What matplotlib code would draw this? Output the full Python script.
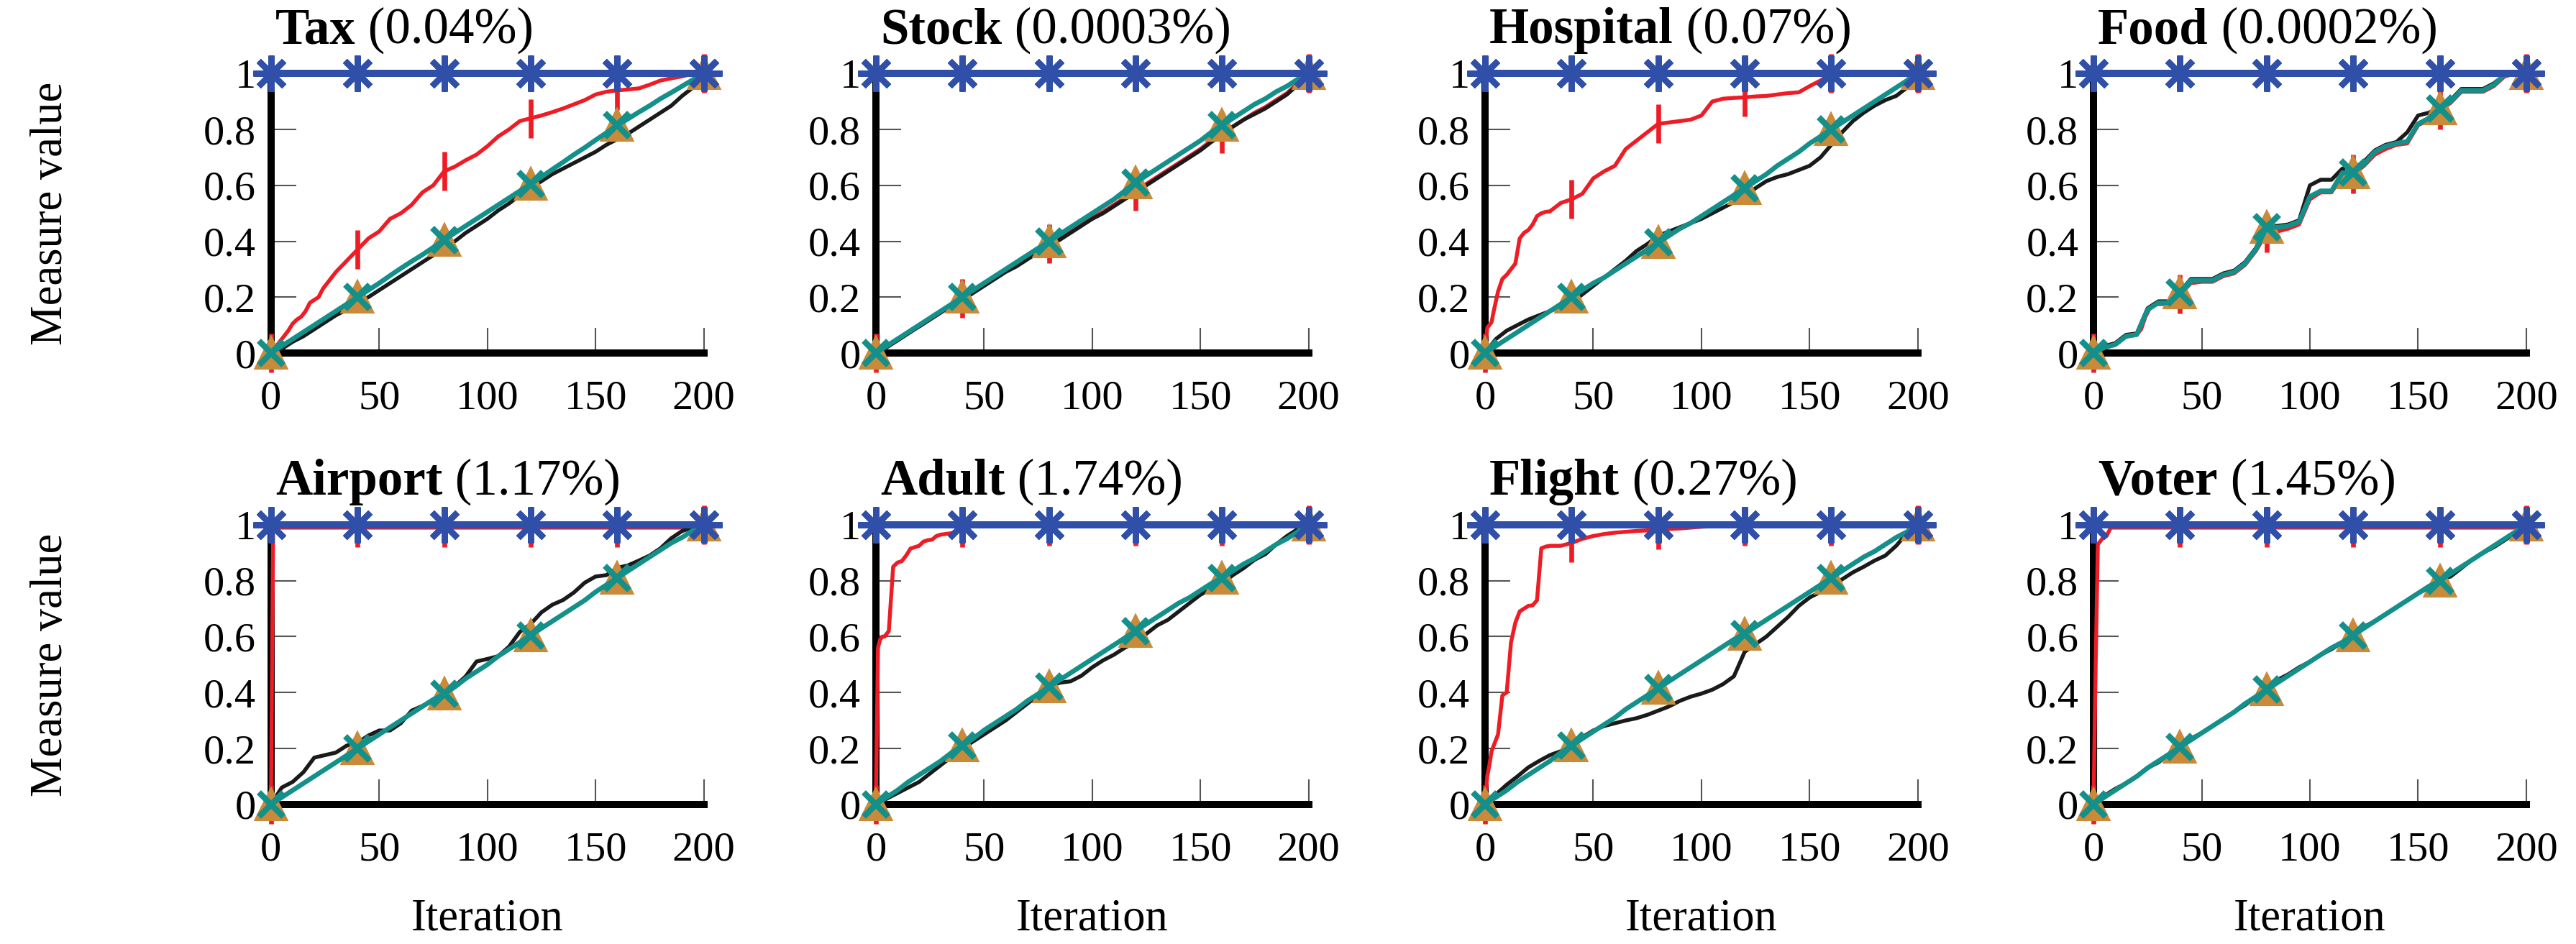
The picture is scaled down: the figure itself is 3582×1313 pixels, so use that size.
import matplotlib
matplotlib.use("Agg")
import matplotlib.pyplot as plt

plt.rcParams["font.family"] = ["Liberation Serif", "DejaVu Serif"]

# datasets and their error rate shown in the title
names = ["Tax", "Stock", "Hospital", "Food", "Airport", "Adult", "Flight", "Voter"]
rates = ["0.04%", "0.0003%", "0.07%", "0.0002%", "1.17%", "1.74%", "0.27%", "1.45%"]

# iteration grids
iter_fine = [0, 1, 2, 3, 4, 6, 8, 10, 12, 14, 16, 18, 20, 22, 24, 26, 28, 30,
             35, 40, 45, 50, 55, 60, 65, 70, 75, 80, 85, 90, 95, 100, 105, 110,
             115, 120, 125, 130, 135, 140, 145, 150, 155, 160, 165, 170, 175,
             180, 185, 190, 195, 200]
iter_5 = list(range(0, 201, 5))
iter_mark = [0, 40, 80, 120, 160, 200]

# blue series (always 1)
blue_y = [1, 1, 1, 1, 1, 1]

# red series on iter_fine
red_tax = [0, .01, .02, .03, .04, .06, .08, .105, .12, .13, .15, .18, .19, .2, .23, .25, .27, .29,
           .33, .37, .41, .435, .48, .50, .53, .575, .60, .65, .667, .69, .71, .74, .775, .80,
           .83, .84, .85, .862, .875, .89, .905, .925, .935, .94, .943, .947, .96,
           .975, .983, .99, 1.0, 1.0]
red_stock = [0, .005, .01, .015, .02, .03, .04, .045, .06, .07, .08, .09, .095, .105, .115, .125, .135, .145,
             .17, .195, .22, .245, .27, .295, .315, .34, .365, .39, .41, .435, .46, .485, .505, .53,
             .555, .58, .605, .63, .655, .68, .705, .73, .76, .785, .81, .835, .86,
             .88, .905, .93, .965, 1.0]
red_hospital = [0, .09, .10, .11, .15, .22, .265, .28, .30, .32, .41, .43, .44, .46, .49, .50, .505, .507,
                .537, .55, .57, .625, .65, .67, .73, .76, .79, .82, .825, .83, .835, .85, .90, .91,
                .913, .915, .918, .92, .925, .93, .933, .955, .975, 1.0, 1.0, 1.0, 1.0,
                1.0, 1.0, 1.0, 1.0, 1.0]
red_food = [0, .005, .008, .01, .015, .02, .025, .03, .04, .055, .06, .063, .066, .085, .13, .16, .175, .175,
            .175, .21, .25, .255, .255, .275, .285, .315, .365, .43, .435, .445, .46, .55, .575, .575,
            .635, .64, .67, .71, .73, .745, .75, .815, .835, .87, .895, .935, .935,
            .935, .955, .99, 1.0, 1.0]
red_airport = [0, .985, .99, .99, .99, .99, .99, .99, .99, .99, .99, .99, .99, .99, .99, .99, .99, .99,
               .99, .99, .99, .99, .99, .99, .99, .99, .99, .99, .99, .99, .99, .99, .99, .99,
               .99, .99, .99, .99, .99, .99, .99, .99, .99, .99, .99, .99, .99,
               .99, .99, .99, .995, 1.0]
red_adult = [0, .56, .59, .6, .6, .62, .85, .865, .87, .89, .915, .92, .925, .94, .945, .947, .96, .965,
             .97, .99, .995, .995, .995, .995, .995, .995, .995, .995, .995, .995, .995, .995, .995, .995,
             .995, .995, .995, .995, .995, .995, .995, .995, .995, .995, .995, .995, .995,
             .995, .995, .995, .995, 1.0]
red_flight = [0, .1, .14, .19, .21, .25, .39, .40, .58, .65, .69, .70, .71, .712, .73, .916, .922, .925,
              .925, .935, .95, .96, .967, .972, .975, .978, .98, .983, .985, .987, .99, .993, .995, .995,
              .995, .995, .995, .995, .995, .995, .995, .995, .995, .995, .995, .995, .995,
              .995, .995, .995, .995, 1.0]
red_voter = [0, .5, .93, .94, .95, .96, .99, .99, .99, .99, .99, .99, .99, .99, .99, .99, .99, .99,
             .99, .99, .99, .99, .99, .99, .99, .99, .99, .99, .99, .99, .99, .99, .99, .99,
             .99, .99, .99, .99, .99, .99, .99, .99, .99, .99, .99, .99, .99,
             .99, .99, .99, .99, 1.0]

# black series on iter_5
black_tax = [0, .015, .04, .06, .085, .11, .135, .155, .18, .2, .225, .25, .275, .3, .325, .35, .375, .4,
             .43, .455, .48, .51, .535, .565, .59, .615, .64, .66, .68, .70, .72, .745, .765, .785,
             .81, .835, .86, .885, .92, .95, 1.0]
black_stock = [0, .02, .045, .07, .095, .12, .145, .17, .19, .215, .24, .265, .29, .31, .335, .36, .385, .405,
               .43, .455, .48, .5, .525, .55, .575, .6, .625, .65, .675, .7, .725, .755, .78, .81,
               .835, .855, .875, .9, .925, .96, 1.0]
black_hospital = [0, .05, .08, .10, .12, .135, .15, .165, .18, .21, .24, .27, .30, .33, .365, .39, .42, .435,
                  .45, .465, .48, .50, .52, .54, .56, .59, .615, .63, .64, .655, .67, .70, .745, .79,
                  .83, .86, .885, .905, .92, .95, 1.0]
black_food = [0, .025, .035, .065, .07, .16, .185, .185, .22, .265, .265, .265, .285, .295, .325, .375, .455, .455,
              .46, .475, .60, .62, .62, .66, .66, .685, .725, .745, .755, .79, .85, .86, .88, .905,
              .945, .945, .945, .965, .995, 1.0, 1.0]
black_airport = [0, .06, .08, .115, .167, .176, .185, .21, .22, .246, .264, .264, .29, .335, .352, .37, .387, .423,
                 .458, .511, .52, .53, .564, .617, .645, .687, .714, .731, .758, .793, .815, .82, .846, .855,
                 .872, .89, .916, .952, .978, .99, 1.0]
black_adult = [0, .02, .04, .06, .08, .11, .14, .17, .2, .225, .25, .275, .3, .33, .36, .39, .42, .435,
               .44, .46, .49, .515, .535, .56, .58, .61, .64, .66, .69, .72, .75, .77, .79, .82,
               .845, .875, .895, .93, .96, .985, 1.0]
black_flight = [0, .035, .07, .1, .132, .155, .176, .19, .21, .24, .264, .28, .29, .3, .308, .32, .335, .35,
                .37, .385, .396, .41, .43, .458, .546, .573, .6, .635, .67, .71, .74, .76, .78, .805,
                .83, .85, .872, .89, .925, .97, 1.0]
black_voter = [0, .03, .055, .075, .1, .13, .15, .18, .205, .235, .255, .28, .305, .33, .355, .385, .415, .445,
               .465, .49, .51, .535, .555, .58, .605, .635, .655, .68, .705, .73, .755, .775, .805, .815,
               .845, .875, .9, .92, .945, .97, 1.0]

# teal series on iter_5 (the orange series lies right under it)
teal_tax = [0, .025, .05, .075, .10, .125, .15, .175, .20, .225, .25, .277, .303, .328, .352, .378, .405, .43,
            .455, .48, .505, .53, .555, .58, .605, .63, .657, .683, .71, .735, .762, .788, .815, .838,
            .862, .885, .91, .932, .955, .978, 1.0]
teal_stock = [0, .025, .05, .075, .10, .125, .15, .175, .20, .225, .25, .275, .30, .325, .35, .375, .40, .425,
              .45, .475, .50, .525, .55, .58, .61, .635, .66, .685, .71, .735, .76, .79, .815, .84,
              .865, .89, .91, .935, .955, .98, 1.0]
teal_hospital = [0, .025, .05, .075, .10, .125, .15, .175, .20, .225, .25, .27, .295, .32, .345, .37, .395, .42,
                 .445, .465, .49, .515, .54, .565, .59, .615, .64, .67, .695, .72, .75, .775, .80, .825,
                 .85, .875, .90, .925, .95, .975, 1.0]
teal_food = [0, .02, .03, .06, .066, .155, .18, .18, .215, .26, .26, .26, .28, .29, .32, .37, .45, .45,
             .455, .47, .56, .58, .58, .645, .645, .676, .72, .74, .75, .757, .82, .84, .875, .90,
             .94, .94, .94, .96, .995, 1.0, 1.0]
teal_airport = [0, .025, .05, .075, .10, .125, .15, .175, .20, .225, .25, .275, .30, .325, .35, .375, .395, .42,
                .45, .475, .50, .53, .555, .58, .605, .63, .655, .68, .705, .73, .76, .785, .81, .835,
                .86, .885, .91, .935, .955, .98, 1.0]
teal_adult = [0, .025, .05, .08, .105, .13, .155, .185, .21, .235, .265, .29, .315, .34, .37, .395, .42, .445,
              .47, .495, .52, .545, .57, .595, .62, .645, .67, .695, .72, .74, .765, .79, .81, .835,
              .86, .88, .905, .93, .95, .975, 1.0]
teal_flight = [0, .025, .05, .08, .105, .13, .155, .185, .21, .235, .26, .285, .31, .34, .365, .39, .415, .44,
               .465, .49, .515, .54, .565, .59, .61, .635, .66, .685, .71, .735, .76, .785, .81, .835,
               .86, .885, .905, .93, .955, .975, 1.0]
teal_voter = [0, .025, .05, .075, .10, .13, .155, .18, .205, .23, .255, .28, .305, .33, .36, .385, .41, .435,
              .46, .485, .51, .535, .56, .58, .605, .63, .655, .68, .705, .73, .755, .78, .80, .825,
              .85, .875, .9, .925, .95, .975, 1.0]

reds = [red_tax, red_stock, red_hospital, red_food, red_airport, red_adult, red_flight, red_voter]
blacks = [black_tax, black_stock, black_hospital, black_food, black_airport, black_adult, black_flight, black_voter]
teals = [teal_tax, teal_stock, teal_hospital, teal_food, teal_airport, teal_adult, teal_flight, teal_voter]
oranges = teals

C_BLUE = "#2f4fa8"
C_RED = "#ee1c25"
C_BLACK = "#1a1a1a"
C_ORANGE = "#c98a3a"
C_TEAL = "#14908a"

fig = plt.figure(figsize=(11.94, 4.377), dpi=300)

lefts = [0.1052, 0.340, 0.5765, 0.8127]
bottoms = [0.626, 0.148]
width, height = 0.168, 0.296

red_marks = [iter_fine.index(v) for v in iter_mark]

for k, name in enumerate(names):
    row, col = divmod(k, 4)
    ax = fig.add_axes([lefts[col], bottoms[row], width, height])

    ax.plot(iter_fine, reds[k], color=C_RED, lw=1.3, marker="|", ms=13, mew=1.6,
            markevery=red_marks, clip_on=False, zorder=3)
    ax.plot(iter_5, blacks[k], color=C_BLACK, lw=1.3, clip_on=False, zorder=4)
    ax.plot(iter_5, oranges[k], color=C_ORANGE, lw=1.3, marker="^", ms=10,
            markevery=8, clip_on=False, zorder=5)
    ax.plot(iter_5, teals[k], color=C_TEAL, lw=1.6, marker="x", ms=8, mew=2,
            markevery=8, clip_on=False, zorder=6)
    ax.plot(iter_mark, blue_y, color=C_BLUE, lw=2.4, marker=(8, 2, 0), ms=12, mew=2,
            clip_on=False, zorder=7)

    ax.set_xlim(0, 200)
    ax.set_ylim(0, 1)
    ax.spines["top"].set_visible(False)
    ax.spines["right"].set_visible(False)
    for s in ("left", "bottom"):
        ax.spines[s].set_linewidth(2.4)
        ax.spines[s].set_zorder(2)
    ax.set_xticks([0, 50, 100, 150, 200])
    ax.set_yticks([0, 0.2, 0.4, 0.6, 0.8, 1])
    ax.set_yticklabels(["0", "0.2", "0.4", "0.6", "0.8", "1"])
    ax.tick_params(direction="in", length=8.5, width=0.5, color="#555555",
                   labelsize=14, pad=5)
    ax.tick_params(axis="x", pad=9)

    t = ax.text(0.01, 1.07, name, transform=ax.transAxes, fontsize=17,
                fontweight="bold", ha="left", va="bottom")
    ax.annotate(" (" + rates[k] + ")", xy=(1, 0), xycoords=t, fontsize=17,
                ha="left", va="bottom")

    if col == 0:
        ax.set_ylabel("Measure value", fontsize=15, labelpad=44)
    if row == 1:
        ax.set_xlabel("Iteration", fontsize=15, labelpad=10)

fig.savefig("out.png", dpi=300)
